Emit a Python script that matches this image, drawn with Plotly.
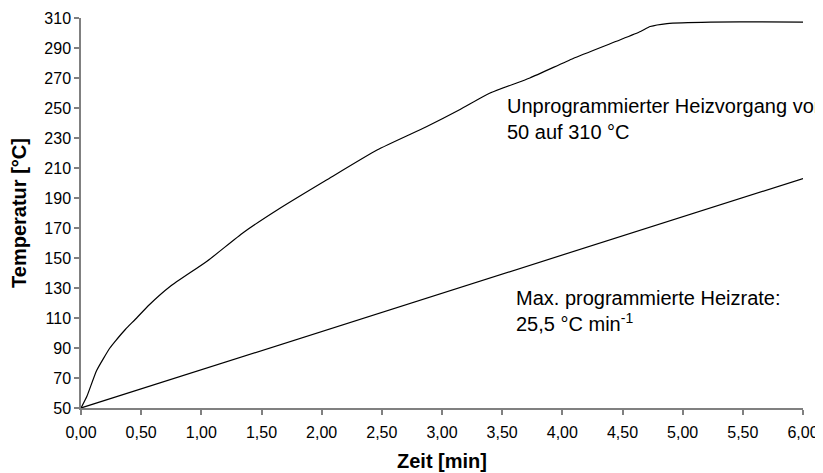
import plotly.graph_objects as go

# Unprogrammed heating curve (time in min, temperature in °C)
unprog_t = [0, 0.05, 0.13, 0.24, 0.30, 0.37, 0.45, 0.57, 0.74, 1.05, 1.35, 1.65,
            2.04, 2.46, 2.87, 3.15, 3.40, 3.73, 4.09, 4.45, 4.65, 4.73, 4.87, 5.23, 6.0]
unprog_T = [50, 58, 75, 90, 96, 102.5, 109, 119, 131, 148, 167, 183,
            202, 222, 237.5, 249, 260, 270, 283, 294.5, 301, 304.3, 306.3, 307.3, 307.3]

# Max programmed heating rate line
prog_t = [0, 2.0, 4.0, 6.0]
prog_T = [50, 101, 152, 203]

x_ticks = [0, 0.5, 1, 1.5, 2, 2.5, 3, 3.5, 4, 4.5, 5, 5.5, 6]
x_labels = ["0,00", "0,50", "1,00", "1,50", "2,00", "2,50", "3,00",
            "3,50", "4,00", "4,50", "5,00", "5,50", "6,00"]
y_ticks = list(range(50, 311, 20))

FONT = "Liberation Sans, Arial, sans-serif"

fig = go.Figure()
fig.add_trace(go.Scatter(x=unprog_t, y=unprog_T, mode="lines",
                         line=dict(color="black", width=1.2, shape="spline", smoothing=0.5),
                         showlegend=False))
fig.add_trace(go.Scatter(x=prog_t, y=prog_T, mode="lines",
                         line=dict(color="black", width=1.2), showlegend=False))

fig.add_annotation(text="Unprogrammierter Heizvorgang von<br>50 auf 310 °C",
                   x=3.52, y=243, xref="x", yref="y", xanchor="left", yanchor="middle",
                   align="left", showarrow=False,
                   font=dict(family=FONT, size=20, color="black"))
fig.add_annotation(text="Max. programmierte Heizrate:<br>25,5 °C min<sup>-1</sup>",
                   x=3.598, y=115, xref="x", yref="y", xanchor="left", yanchor="middle",
                   align="left", showarrow=False,
                   font=dict(family=FONT, size=20, color="black"))

fig.update_layout(
    width=815, height=465,
    margin=dict(l=73, r=20, t=10, b=65),
    paper_bgcolor="white", plot_bgcolor="white",
    font=dict(family=FONT, size=16, color="black"),
    xaxis=dict(range=[0, 6], tickmode="array", tickvals=x_ticks, ticktext=x_labels,
               showgrid=False, zeroline=False, showline=True, linecolor="#808080",
               linewidth=1.5, ticks="outside", ticklen=5, tickcolor="#808080",
               tickwidth=1.5, tickfont=dict(family=FONT, size=16), automargin=False,
               ticklabelstandoff=4,
               title=dict(text="<b>Zeit [min]</b>", font=dict(family=FONT, size=20),
                          standoff=14)),
    yaxis=dict(range=[50, 310], tickmode="array", tickvals=y_ticks,
               showgrid=False, zeroline=False, showline=True, linecolor="#808080",
               linewidth=1.5, ticks="outside", ticklen=5, tickcolor="#808080",
               tickwidth=1.5, tickfont=dict(family=FONT, size=16), automargin=False,
               title=dict(text="<b>Temperatur [°C]</b>", font=dict(family=FONT, size=20),
                          standoff=22)),
)

fig.write_html("out.html")
